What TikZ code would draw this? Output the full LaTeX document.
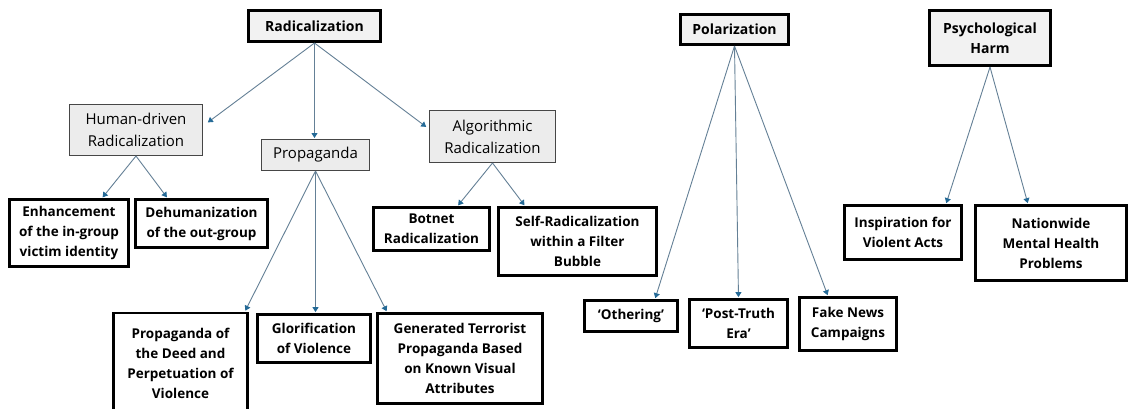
\documentclass[tikz,border=0pt]{standalone}
\usepackage{fontspec}
\setmainfont{Open Sans}
\usetikzlibrary{arrows.meta}
\definecolor{linkline}{RGB}{100,128,150}
\definecolor{linktip}{RGB}{35,105,150}
\definecolor{topfill}{RGB}{242,242,242}
\definecolor{midfill}{RGB}{236,236,236}
\definecolor{midedge}{RGB}{70,70,70}
\begin{document}
\begin{tikzpicture}[x=1pt,y=-1pt,
  topbox/.style={draw=black,line width=3pt,fill=topfill,align=center,inner sep=0pt,
    font=\bfseries\fontsize{14}{20}\selectfont},
  midbox/.style={draw=midedge,line width=1pt,fill=midfill,align=center,inner sep=0pt,
    font=\fontsize{15}{22}\selectfont},
  leafbox/.style={draw=black,line width=2.8pt,fill=white,align=center,inner sep=0pt,
    font=\bfseries\fontsize{13.5}{20}\selectfont},
  link/.style={draw=linkline,line width=0.9pt,shorten >=1pt,
    -{Triangle[width=6pt,length=5pt,color=linktip,fill=linktip]}},
]
\useasboundingbox (0,0) rectangle (1135,408);
\fill[white] (0,0) rectangle (1135,408);

% ---- Radicalization branch
\node[topbox,minimum width=132pt,minimum height=31pt] (rad) at (314.5,26) {Radicalization};
\node[midbox,minimum width=133pt,minimum height=51pt] (hum) at (136,130) {Human-driven\\Radicalization};
\node[midbox,minimum width=108pt,minimum height=31pt] (prop) at (315.5,155) {Propaganda};
\node[midbox,minimum width=126pt,minimum height=52pt] (alg) at (492.5,136.5) {Algorithmic\\Radicalization};

\node[leafbox,minimum width=119pt,minimum height=67pt] (enh) at (69,233) {Enhancement\\of the in-group\\victim identity};
\node[leafbox,minimum width=132pt,minimum height=48pt] (deh) at (201.5,223.5) {Dehumanization\\of the out-group};
\node[leafbox,minimum width=116pt,minimum height=43pt] (bot) at (431.5,229) {Botnet\\Radicalization};
\node[leafbox,minimum width=158pt,minimum height=68pt] (self) at (577.5,241.5) {Self-Radicalization\\within a Filter\\Bubble};

\node[leafbox,minimum width=134pt,minimum height=100pt] (deed) at (180.5,363) {Propaganda of\\the Deed and\\Perpetuation of\\Violence};
\node[leafbox,minimum width=113pt,minimum height=48pt] (glor) at (314,338.5) {Glorification\\of Violence};
\node[leafbox,minimum width=165pt,minimum height=90pt] (gen) at (460,358.5) {Generated Terrorist\\Propaganda Based\\on Known Visual\\Attributes};

% ---- Polarization branch
\node[topbox,minimum width=108pt,minimum height=30pt] (pol) at (734.5,29.5) {Polarization};
\node[leafbox,minimum width=93pt,minimum height=31pt] (oth) at (631,316) {‘Othering’};
\node[leafbox,minimum width=98pt,minimum height=48pt] (post) at (738.5,323.5) {‘Post-Truth\\Era’};
\node[leafbox,minimum width=97pt,minimum height=53pt] (fake) at (848,324) {Fake News\\Campaigns};

% ---- Psychological harm branch
\node[topbox,minimum width=121pt,minimum height=55pt] (psy) at (990,38) {Psychological\\Harm};
\node[leafbox,minimum width=117pt,minimum height=54pt] (insp) at (903,232.5) {Inspiration for\\Violent Acts};
\node[leafbox,minimum width=151pt,minimum height=75pt] (nat) at (1051,243) {Nationwide\\Mental Health\\Problems};

% ---- connectors
\draw[link] (rad.south) -- ([xshift=4pt,yshift=7pt]hum.east);
\draw[link] (rad.south) -- (rad.south |- prop.north);
\draw[link] (rad.south) -- ([xshift=-2pt,yshift=9pt]alg.west);

\draw[link] (hum.south) -- ([xshift=33pt]enh.north);
\draw[link] (hum.south) -- ([xshift=-34pt]deh.north);

\draw[link] (prop.south) -- ([xshift=-4pt]deed.north east);
\draw[link] (prop.south) -- (prop.south |- glor.north);
\draw[link] (prop.south) -- ([xshift=11pt]gen.north west);

\draw[link] (alg.south) -- ([xshift=26pt]bot.north);
\draw[link] (alg.south) -- ([xshift=28pt]self.north west);

\draw[link] (pol.south) -- ([xshift=24pt]oth.north);
\draw[link] (pol.south) -- (post.north);
\draw[link] (pol.south) -- ([xshift=-20pt]fake.north);

\draw[link] (psy.south) -- ([xshift=43pt]insp.north);
\draw[link] (psy.south) -- ([xshift=-23pt]nat.north);
\end{tikzpicture}
\end{document}
